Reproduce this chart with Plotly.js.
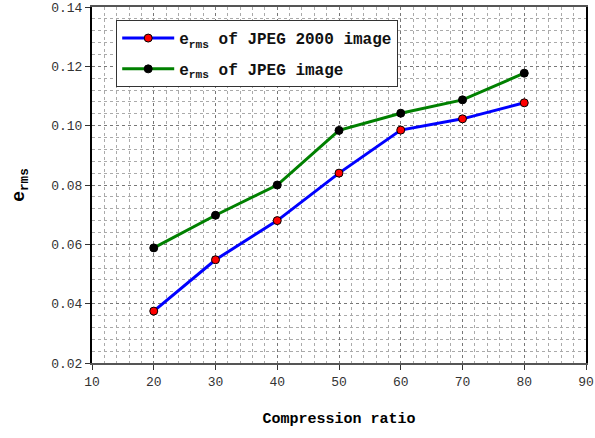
<!DOCTYPE html>
<html>
<head>
<meta charset="utf-8">
<script src="https://cdn.plot.ly/plotly-3.0.1.min.js"></script>
<style>html,body{margin:0;padding:0;background:#fff;}#chart{width:595px;height:438px;}</style>
</head>
<body>
<div id="chart"></div>
<script>
const compressionRatio = [20, 30, 40, 50, 60, 70, 80];
const ermsJpeg2000 = [0.0375, 0.0548, 0.068, 0.084, 0.0985, 0.1023, 0.1077];
const ermsJpeg = [0.0588, 0.0698, 0.080, 0.0984, 0.1042, 0.1087, 0.1177];
const seriesNames = ["e<sub>rms</sub> of JPEG 2000 image", "e<sub>rms</sub> of JPEG image"];
const xTitle = "Compression ratio";
const yTitle = "e<sub>rms</sub>";

const mono = "Liberation Mono, Courier New, monospace";
const traces = [
  {x: compressionRatio, y: ermsJpeg2000, name: seriesNames[0], mode: "lines+markers",
   legendgroup: "a",
   line: {color: "#0000ff", width: 3},
   marker: {color: "#ff0000", size: 8, line: {color: "#000", width: 1}}},
  {x: compressionRatio, y: ermsJpeg, name: seriesNames[1], mode: "lines+markers",
   legendgroup: "b",
   line: {color: "#008000", width: 3},
   marker: {color: "#000000", size: 8, line: {color: "#000", width: 1}}}
];
const layout = {
  width: 595, height: 438,
  margin: {l: 92, r: 9, t: 7, b: 75},
  paper_bgcolor: "#fff", plot_bgcolor: "#fff",
  font: {family: mono, color: "#222", size: 12},
  showlegend: true,
  legend: {x: 0.049, y: 0.963, xanchor: "left", yanchor: "top",
    bgcolor: "#fff", bordercolor: "#333", borderwidth: 1,
    traceorder: "grouped", tracegroupgap: 7, itemwidth: 52,
    font: {family: mono, size: 16, color: "#111", weight: "bold"}},
  xaxis: {range: [10, 90], dtick: 10, tick0: 10,
    showline: true, linecolor: "#555", linewidth: 2, mirror: true,
    ticks: "outside", ticklen: 5, tickcolor: "#333",
    showgrid: true, gridcolor: "#777", griddash: "dot", gridwidth: 1,
    minor: {dtick: 2, showgrid: true, gridcolor: "#aaa", griddash: "dot", gridwidth: 1},
    zeroline: false,
    tickfont: {family: mono, size: 13, color: "#333"},
    title: {text: xTitle, standoff: 24, font: {family: mono, size: 15, color: "#000", weight: "bold"}}},
  yaxis: {range: [0.02, 0.14], dtick: 0.02, tick0: 0.02, tickformat: ".2f",
    showline: true, linecolor: "#000", linewidth: 2, mirror: true,
    ticks: "outside", ticklen: 5, tickcolor: "#333",
    showgrid: true, gridcolor: "#777", griddash: "dot", gridwidth: 1,
    minor: {dtick: 0.004, showgrid: true, gridcolor: "#aaa", griddash: "dot", gridwidth: 1},
    zeroline: false,
    tickfont: {family: mono, size: 13, color: "#333"},
    title: {text: yTitle, standoff: 22, font: {family: mono, size: 18, color: "#000", weight: "bold"}}}
};
Plotly.newPlot("chart", traces, layout, {displayModeBar: false, staticPlot: true});
</script>
</body>
</html>
